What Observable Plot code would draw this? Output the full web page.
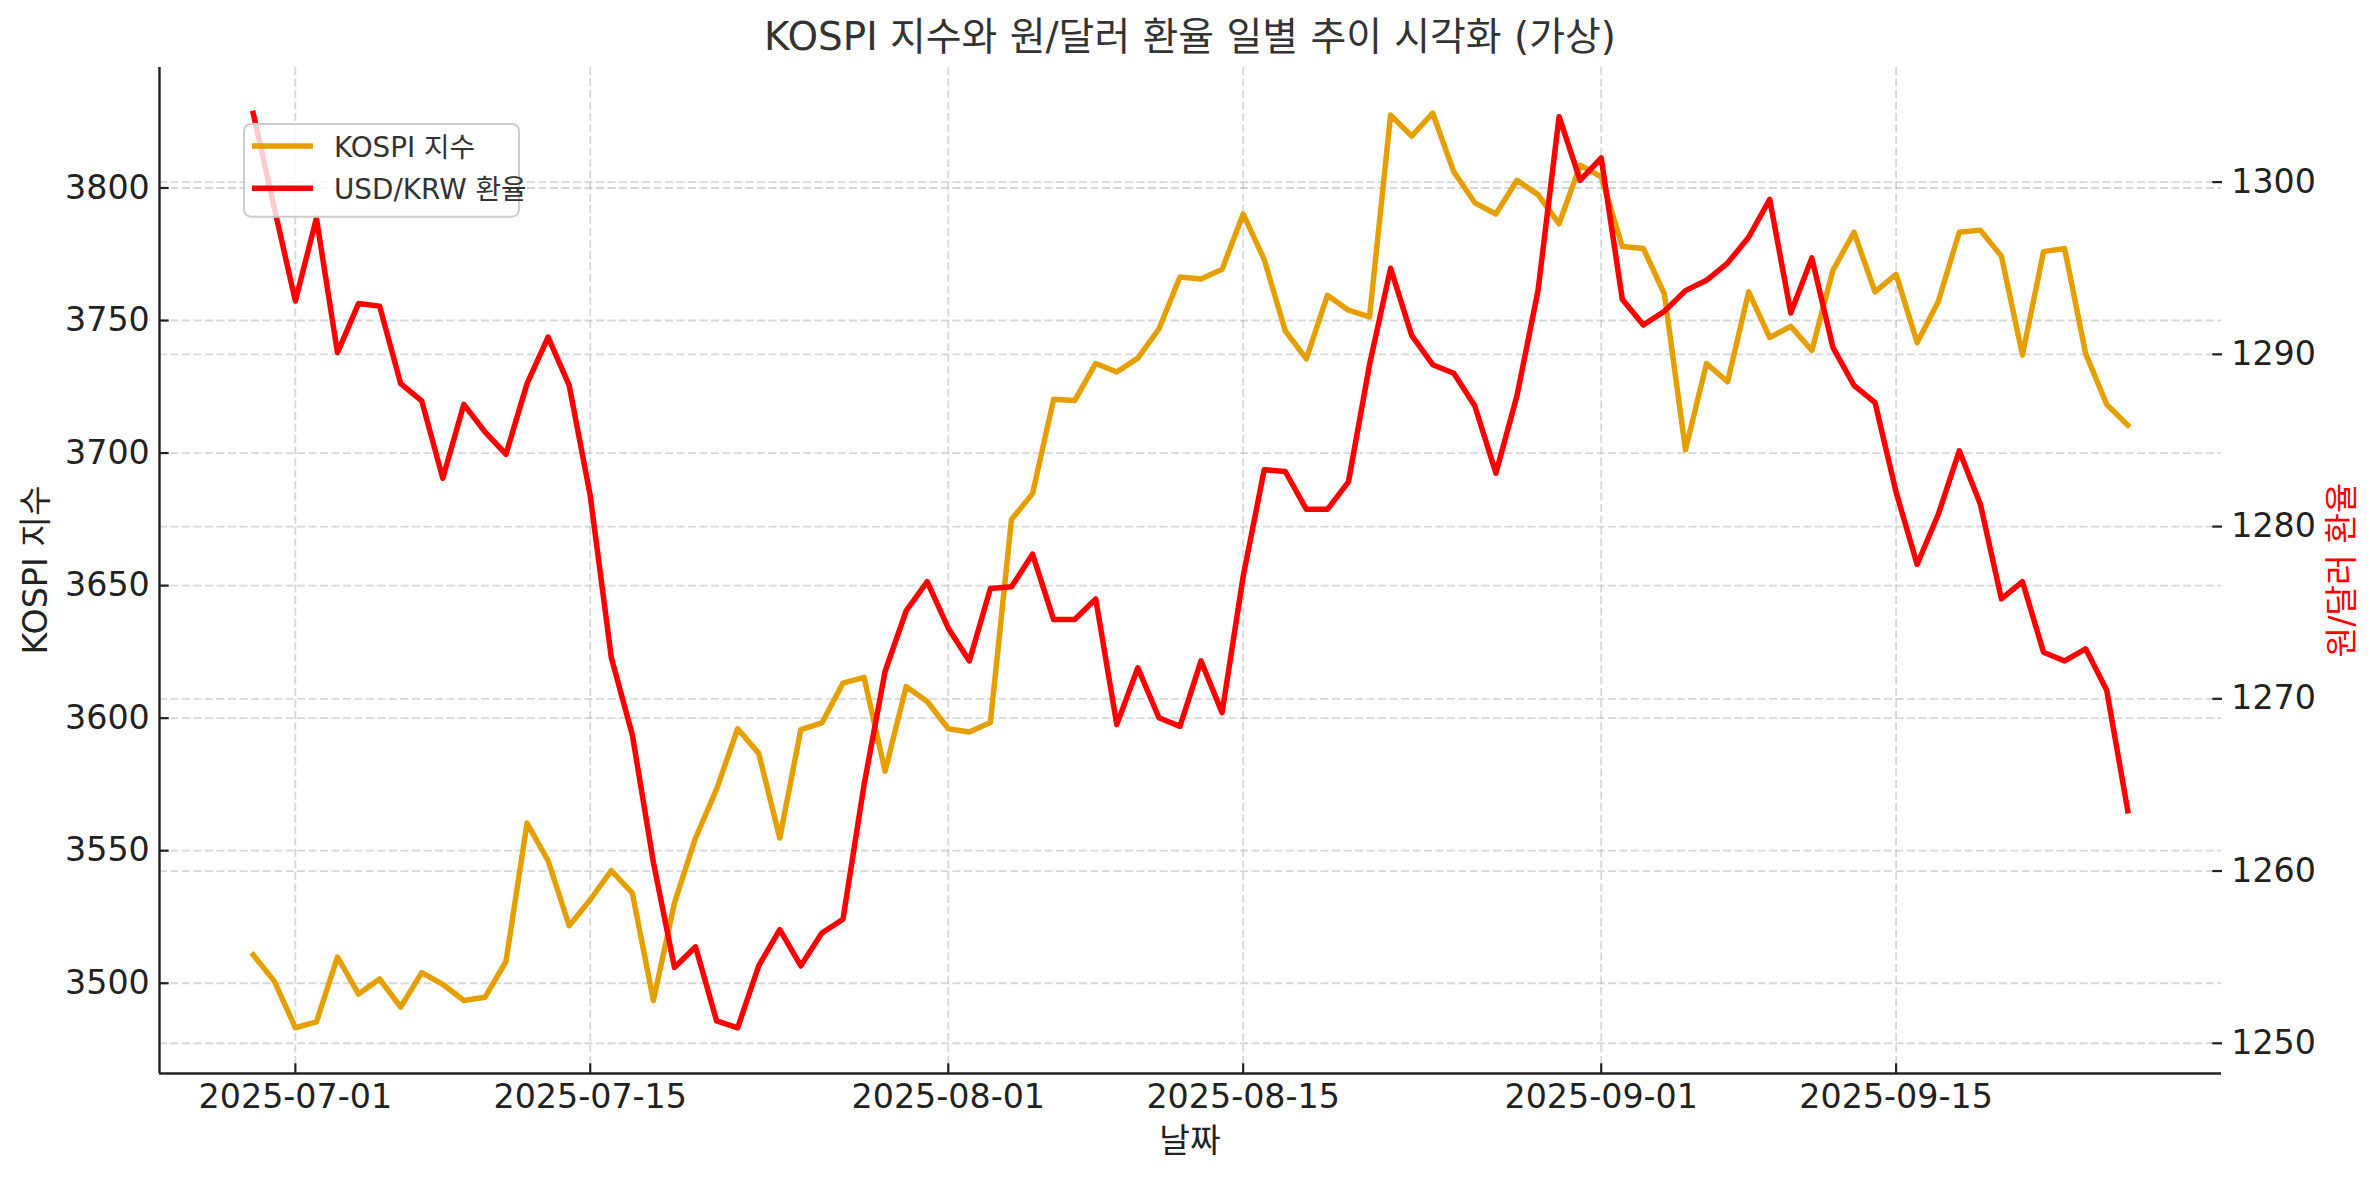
<!DOCTYPE html>
<html>
<head>
<meta charset="utf-8">
<script src="https://cdn.jsdelivr.net/npm/d3@7"></script>
<script src="https://cdn.jsdelivr.net/npm/@observablehq/plot@0.6"></script>
<style>
  html, body { margin: 0; padding: 0; background: #fff; }
  #wrap { position: relative; width: 2379px; height: 1180px; overflow: hidden; }
  #wrap svg { position: absolute; left: 0; top: 0; }
</style>
</head>
<body>
<div id="wrap"></div>
<script>
// ---------------- data ----------------
const firstDate = "2025-06-29";
const lastDate = "2025-09-26";

const kospi = [
  3510.7, 3500.8, 3483.2, 3485.4, 3509.9, 3495.9, 3501.6, 3491.0, 3504.0, 3499.6,
  3493.5, 3494.7, 3508.2, 3560.4, 3546.2, 3521.7, 3531.5, 3542.5, 3534.0, 3493.5,
  3530.3, 3554.8, 3573.2, 3596.0, 3586.7, 3554.8, 3595.7, 3598.2, 3613.2, 3615.4,
  3580.0, 3611.9, 3606.3, 3596.0, 3594.8, 3598.4, 3674.9, 3684.7, 3720.3, 3719.8,
  3733.8, 3730.6, 3735.8, 3746.8, 3766.4, 3765.7, 3769.3, 3790.2, 3773.0, 3746.1,
  3735.5, 3759.5, 3753.9, 3751.4, 3827.5, 3819.6, 3828.2, 3806.1, 3794.4, 3790.2,
  3802.9, 3797.5, 3786.5, 3808.6, 3804.2, 3777.9, 3777.2, 3760.0, 3701.2, 3733.8,
  3726.9, 3760.8, 3743.6, 3747.8, 3738.7, 3768.9, 3783.3, 3760.8, 3767.4, 3741.6,
  3757.1, 3783.3, 3784.1, 3774.3, 3737.0, 3776.0, 3777.2, 3737.5, 3718.3, 3710.5
];

const usdkrw = [
  1304.0, 1298.5, 1293.1, 1297.9, 1290.1, 1292.95, 1292.8, 1288.3, 1287.3, 1282.8,
  1287.1, 1285.5, 1284.2, 1288.3, 1291.0, 1288.2, 1281.8, 1272.4, 1267.9, 1260.5,
  1254.4, 1255.6, 1251.3, 1250.9, 1254.5, 1256.6, 1254.5, 1256.4, 1257.2, 1265.0,
  1271.6, 1275.1, 1276.8, 1274.1, 1272.2, 1276.4, 1276.5, 1278.4, 1274.6, 1274.6,
  1275.8, 1268.5, 1271.8, 1268.9, 1268.4, 1272.2, 1269.2, 1277.1, 1283.3, 1283.2,
  1281.0, 1281.0, 1282.6, 1289.4, 1295.0, 1291.1, 1289.4, 1288.9, 1287.0, 1283.1,
  1287.6, 1293.7, 1303.8, 1300.1, 1301.4, 1293.2, 1291.7, 1292.5, 1293.7, 1294.3,
  1295.3, 1296.8, 1299.0, 1292.4, 1295.6, 1290.4, 1288.2, 1287.2, 1282.0, 1277.8,
  1280.7, 1284.4, 1281.3, 1275.8, 1276.8, 1272.7, 1272.2, 1272.9, 1270.5, 1263.5
];

const xTicks = ["2025-07-01", "2025-07-15", "2025-08-01", "2025-08-15", "2025-09-01", "2025-09-15"];
const kospiTicks = [3500, 3550, 3600, 3650, 3700, 3750, 3800];
const usdTicks = [1250, 1260, 1270, 1280, 1290, 1300];

const titleText = "KOSPI 지수와 원/달러 환율 일별 추이 시각화 (가상)";
const xLabel = "날짜";
const yLeftLabel = "KOSPI 지수";
const yRightLabel = "원/달러 환율";
const seriesNames = ["KOSPI 지수", "USD/KRW 환율"];
const seriesColors = ["#E69F00", "#FF0000"];

// ---------------- build ----------------
const parse = d3.utcParse("%Y-%m-%d");
const dates = d3.utcDay.range(parse(firstDate), d3.utcDay.offset(parse(lastDate), 1));
const kData = dates.map((d, i) => ({date: d, value: kospi[i]}));
const uData = dates.map((d, i) => ({date: d, value: usdkrw[i]}));

const xPad = (parse(lastDate) - parse(firstDate)) * 0.05;
const xDomain = [new Date(+parse(firstDate) - xPad), new Date(+parse(lastDate) + xPad)];

function padDomain(arr) {
  const lo = d3.min(arr), hi = d3.max(arr), m = (hi - lo) * 0.05;
  return [lo - m, hi + m];
}
const kDom = padDomain(kospi);
const uDom = padDomain(usdkrw);
const toK = u => kDom[0] + (u - uDom[0]) * (kDom[1] - kDom[0]) / (uDom[1] - uDom[0]);
const fromK = k => uDom[0] + (k - kDom[0]) * (uDom[1] - uDom[0]) / (kDom[1] - kDom[0]);

const FONT = '"DejaVu Sans", "Noto Sans CJK KR", sans-serif';
const gridStyle = {stroke: "#b0b0b0", strokeOpacity: 0.5, strokeWidth: 1.8, strokeDasharray: "8,3.5"};
const TICK = 9.7;

const chart = Plot.plot({
  width: 2379,
  height: 1180,
  marginLeft: 159,
  marginRight: 158,
  marginTop: 67,
  marginBottom: 107,
  style: {fontFamily: FONT, fontSize: "33.3px", color: "#222", background: "white", overflow: "visible"},
  x: {type: "utc", domain: xDomain, label: null},
  y: {domain: kDom, label: null},
  marks: [
    Plot.gridX(xTicks.map(parse), gridStyle),
    Plot.gridY(kospiTicks, gridStyle),
    Plot.gridY(usdTicks.map(toK), gridStyle),
    Plot.line(kData, {x: "date", y: "value", stroke: seriesColors[0], strokeWidth: 5.5,
      strokeLinejoin: "round", strokeLinecap: "square"}),
    Plot.line(uData, {x: "date", y: d => toK(d.value), stroke: seriesColors[1], strokeWidth: 5.5,
      strokeLinejoin: "round", strokeLinecap: "square"}),
    Plot.ruleY([kDom[0]], {stroke: "#222", strokeWidth: 2.4}),
    Plot.ruleX([xDomain[0]], {stroke: "#222", strokeWidth: 2.4}),
    Plot.axisX(xTicks.map(parse), {anchor: "bottom", tickFormat: d3.utcFormat("%Y-%m-%d"),
      tickSize: -TICK, tickPadding: 20.5, strokeWidth: 2.2, label: null}),
    Plot.axisY(kospiTicks, {anchor: "left", tickFormat: d => String(d),
      tickSize: -TICK, tickPadding: 2 * TICK, strokeWidth: 2.2, label: null}),
    Plot.axisY(usdTicks.map(toK), {anchor: "right", tickFormat: d => String(Math.round(fromK(d))),
      tickSize: -TICK, tickPadding: 2 * TICK, strokeWidth: 2.2, label: null})
  ]
});

const wrap = document.getElementById("wrap");
wrap.appendChild(chart);

// ---------------- text overlay (title, axis labels, legend) ----------------
const ov = d3.select(wrap).append("svg")
  .attr("width", 2379).attr("height", 1180)
  .style("pointer-events", "none")
  .attr("font-family", FONT);

ov.append("text").attr("x", 1190).attr("y", 50).attr("text-anchor", "middle")
  .attr("font-size", 38.9).attr("fill", "#333").text(titleText);

ov.append("text").attr("x", 1190).attr("y", 1152).attr("text-anchor", "middle")
  .attr("font-size", 33.3).attr("fill", "#222").text(xLabel);

ov.append("text").attr("transform", "translate(47,570) rotate(-90)").attr("text-anchor", "middle")
  .attr("font-size", 33.3).attr("fill", "#222").text(yLeftLabel);

ov.append("text").attr("transform", "translate(2353,570) rotate(-90)").attr("text-anchor", "middle")
  .attr("font-size", 33.3).attr("fill", seriesColors[1]).text(yRightLabel);

const lg = ov.append("g");
lg.append("rect").attr("x", 244).attr("y", 124).attr("width", 275).attr("height", 92.7)
  .attr("rx", 7).attr("fill", "white").attr("fill-opacity", 0.8)
  .attr("stroke", "#cccccc").attr("stroke-width", 2);
seriesNames.forEach((name, i) => {
  const cy = 146 + i * 42.3;
  lg.append("line").attr("x1", 252).attr("x2", 313).attr("y1", cy).attr("y2", cy)
    .attr("stroke", seriesColors[i]).attr("stroke-width", 5.5).attr("stroke-linecap", "butt");
  lg.append("text").attr("x", 334).attr("y", cy + 10.5).attr("font-size", 27.8)
    .attr("fill", "#333").text(name);
});
</script>
</body>
</html>
